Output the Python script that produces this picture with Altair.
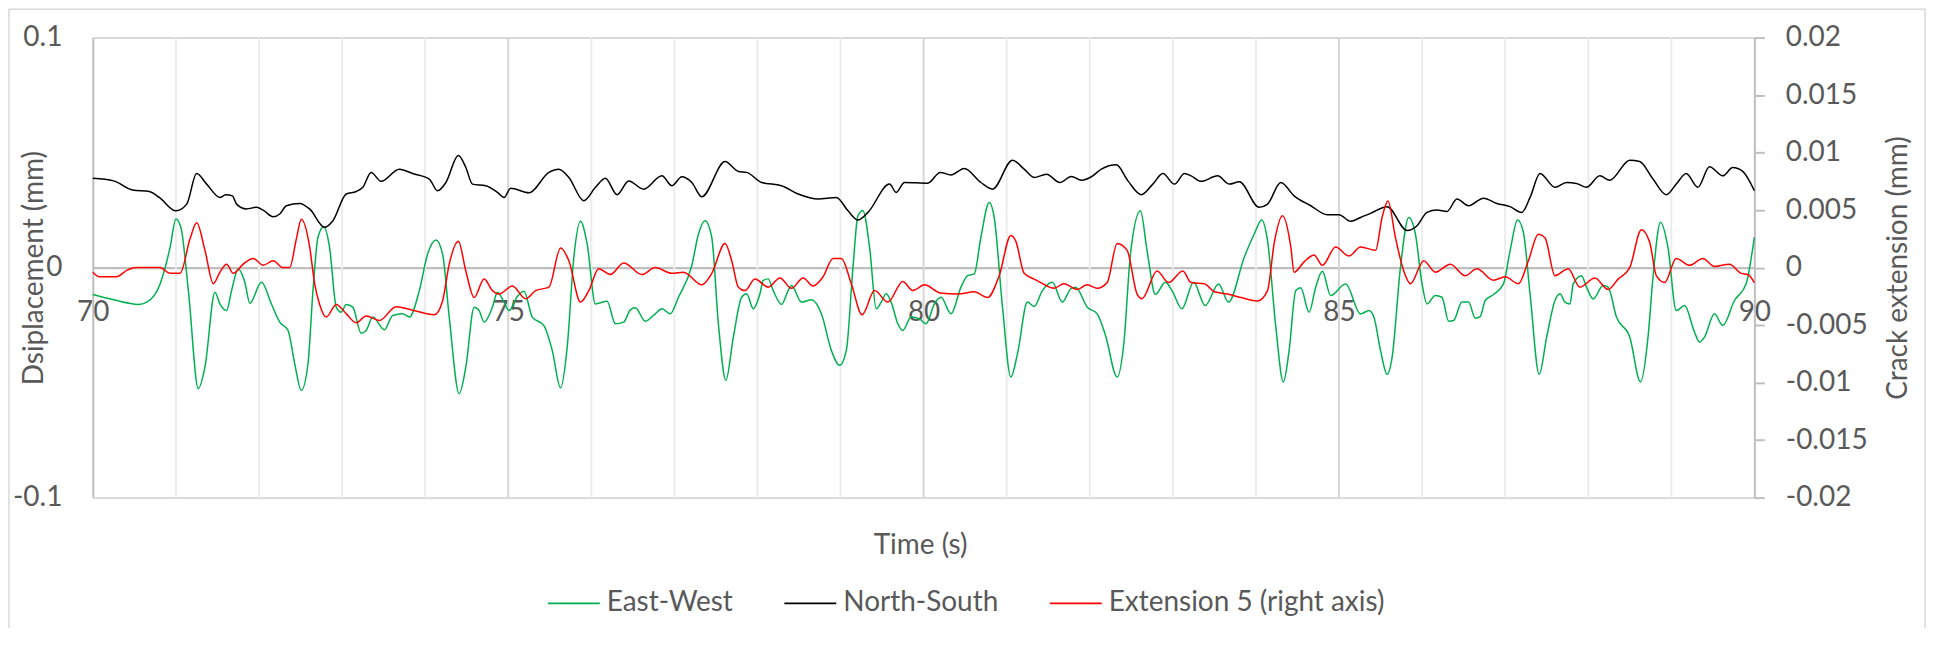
import altair as alt
import pandas as pd

# ---------------- data ----------------
ew_t = [70.0, 70.25, 70.55, 70.65, 70.81, 70.93, 71.0, 71.06, 71.15, 71.27, 71.35, 71.47, 71.53, 71.61, 71.67,
        71.75, 71.83, 71.89, 72.03, 72.15, 72.25, 72.35, 72.43, 72.51, 72.59, 72.65, 72.71, 72.78, 72.85, 72.93,
        72.99, 73.05, 73.13, 73.23, 73.29, 73.37, 73.51, 73.61, 73.73, 73.81, 73.93, 74.03, 74.13, 74.21, 74.29,
        74.41, 74.49, 74.59, 74.65, 74.71, 74.81, 74.87, 74.95, 75.01, 75.11, 75.19, 75.29, 75.43, 75.53, 75.63,
        75.71, 75.79, 75.87, 75.95, 76.05, 76.19, 76.29, 76.39, 76.47, 76.53, 76.65, 76.77, 76.85, 76.95, 77.05,
        77.21, 77.29, 77.37, 77.45, 77.53, 77.62, 77.71, 77.81, 77.87, 77.95, 78.03, 78.07, 78.13, 78.19, 78.29,
        78.37, 78.41, 78.53, 78.65, 78.77, 78.89, 78.99, 79.07, 79.15, 79.21, 79.27, 79.35, 79.43, 79.49, 79.55,
        79.61, 79.69, 79.75, 79.85, 79.95, 80.03, 80.13, 80.21, 80.33, 80.45, 80.53, 80.61, 80.69, 80.79, 80.85,
        80.95, 81.05, 81.13, 81.25, 81.33, 81.43, 81.55, 81.67, 81.77, 81.83, 81.97, 82.09, 82.19, 82.33, 82.41,
        82.49, 82.61, 82.69, 82.79, 82.91, 82.99, 83.11, 83.25, 83.39, 83.55, 83.67, 83.86, 83.98, 84.07, 84.14,
        84.24, 84.33, 84.4, 84.48, 84.54, 84.64, 84.72, 84.8, 84.9, 85.08, 85.26, 85.36, 85.42, 85.5, 85.58,
        85.64, 85.74, 85.84, 85.92, 86.0, 86.06, 86.16, 86.24, 86.32, 86.38, 86.48, 86.56, 86.64, 86.7, 86.76,
        86.86, 86.98, 87.06, 87.15, 87.22, 87.3, 87.41, 87.5, 87.6, 87.66, 87.72, 87.78, 87.82, 87.92, 87.98,
        88.06, 88.18, 88.24, 88.34, 88.5, 88.63, 88.72, 88.78, 88.87, 88.96, 89.06, 89.16, 89.28, 89.34, 89.4,
        89.52, 89.62, 89.76, 89.9, 90.0]
ew_v = [-0.0117, -0.014, -0.016, -0.015, -0.0071, 0.0088, 0.0211, 0.0175, -0.01, -0.0526, -0.0432, -0.0107, -0.0158, -0.0187, -0.01,
        -0.0006, -0.0064, -0.0155, -0.0064, -0.0158, -0.0237, -0.0273, -0.0418, -0.0534, -0.0418, -0.01, 0.0132, 0.0178, 0.0088, -0.0172,
        -0.0194, -0.016, -0.0172, -0.0285, -0.0273, -0.0215, -0.027, -0.0208, -0.0201, -0.0215, -0.01, 0.0059, 0.012, 0.0059, -0.0215,
        -0.0548, -0.0432, -0.0172, -0.0187, -0.0237, -0.0172, -0.0107, -0.015, -0.0187, -0.0126, -0.0103, -0.0215, -0.0252, -0.036, -0.0523,
        -0.0346, 0.0045, 0.0201, 0.0103, -0.0158, -0.0146, -0.0244, -0.0237, -0.0184, -0.0175, -0.0233, -0.0201, -0.0179, -0.0201, -0.0129,
        0.0009, 0.0146, 0.0204, 0.0132, -0.0244, -0.049, -0.0302, -0.0129, -0.0114, -0.0179, -0.0114, -0.0056, -0.0049, -0.01, -0.016,
        -0.01, -0.0078, -0.015, -0.014, -0.0201, -0.036, -0.0425, -0.036, 0.0001, 0.0226, 0.0247, 0.0088, -0.0179, -0.015, -0.0114,
        -0.015, -0.0244, -0.0273, -0.0215, -0.0223, -0.0244, -0.0158, -0.0129, -0.0201, -0.0085, -0.0035, -0.0027, 0.0132, 0.0283, 0.0218,
        -0.0172, -0.0476, -0.0375, -0.015, -0.0169, -0.01, -0.0064, -0.015, -0.0093, -0.0085, -0.0172, -0.0201, -0.0295, -0.0476, -0.0331,
        0.0059, 0.0247, 0.0074, -0.0117, -0.0064, -0.01, -0.0179, -0.0064, -0.0165, -0.0071, -0.015, 0.0045, 0.0146, 0.0207, 0.0117,
        -0.0259, -0.0497, -0.036, -0.01, -0.0088, -0.0194, -0.0085, -0.0016, -0.0121, -0.0071, -0.0201, -0.0187, -0.0215, -0.036, -0.0464,
        -0.0389, 0.0001, 0.0218, 0.0146, -0.0071, -0.0158, -0.0121, -0.0129, -0.0233, -0.023, -0.015, -0.015, -0.022, -0.0213, -0.0143,
        -0.0117, -0.0071, 0.0074, 0.0207, 0.0153, -0.0114, -0.0464, -0.0302, -0.0143, -0.0114, -0.015, -0.0158, -0.0071, -0.0035, -0.0085,
        -0.0136, -0.0078, -0.0085, -0.0215, -0.0302, -0.0497, -0.0302, -0.0042, 0.0197, 0.0088, -0.0187, -0.0165, -0.0281, -0.0324, -0.0302,
        -0.0201, -0.0252, -0.0143, -0.0071, 0.0132]

ns_t = [70.0, 70.25, 70.48, 70.68, 70.8, 71.0, 71.13, 71.25, 71.37, 71.53, 71.6, 71.68, 71.73, 71.85, 71.97,
        72.05, 72.17, 72.25, 72.33, 72.49, 72.61, 72.79, 72.89, 73.05, 73.17, 73.25, 73.35, 73.47, 73.69, 73.85,
        74.05, 74.15, 74.25, 74.4, 74.49, 74.57, 74.73, 74.87, 74.95, 75.03, 75.25, 75.49, 75.61, 75.73, 75.91,
        76.05, 76.17, 76.31, 76.45, 76.63, 76.85, 76.97, 77.09, 77.21, 77.33, 77.61, 77.77, 77.87, 78.05, 78.29,
        78.49, 78.73, 78.95, 79.09, 79.21, 79.33, 79.59, 79.67, 79.77, 80.05, 80.2, 80.33, 80.49, 80.69, 80.83,
        81.07, 81.21, 81.33, 81.48, 81.64, 81.78, 81.9, 82.02, 82.14, 82.32, 82.46, 82.62, 82.76, 82.88, 83.02,
        83.14, 83.22, 83.34, 83.54, 83.68, 83.8, 84.04, 84.14, 84.3, 84.46, 84.66, 84.86, 85.0, 85.14, 85.26,
        85.38, 85.58, 85.82, 85.94, 86.06, 86.18, 86.3, 86.42, 86.56, 86.74, 86.9, 87.06, 87.2, 87.3, 87.42,
        87.6, 87.74, 87.86, 87.98, 88.14, 88.26, 88.5, 88.62, 88.78, 88.94, 89.06, 89.18, 89.32, 89.46, 89.62,
        89.74, 89.86, 90.0]
ns_v = [0.0388, 0.0377, 0.0337, 0.0331, 0.0305, 0.0247, 0.0276, 0.0409, 0.0363, 0.0305, 0.0317, 0.0312, 0.0276, 0.0255, 0.0262,
        0.025, 0.0221, 0.0233, 0.0269, 0.0279, 0.0255, 0.0175, 0.0204, 0.032, 0.0331, 0.0349, 0.0414, 0.0375, 0.0428, 0.0409,
        0.0385, 0.0334, 0.037, 0.0487, 0.0435, 0.0363, 0.0356, 0.0327, 0.0305, 0.0345, 0.0325, 0.0414, 0.0428, 0.0392, 0.0291,
        0.0349, 0.0389, 0.0317, 0.0377, 0.0341, 0.0399, 0.0356, 0.0395, 0.037, 0.0308, 0.0461, 0.0418, 0.0414, 0.037, 0.0356,
        0.032, 0.0298, 0.0305, 0.0247, 0.0207, 0.024, 0.0363, 0.0327, 0.037, 0.0367, 0.0414, 0.0403, 0.0431, 0.037, 0.0341,
        0.0467, 0.0428, 0.0392, 0.0406, 0.037, 0.0396, 0.038, 0.0395, 0.0428, 0.0447, 0.0377, 0.0317, 0.0363, 0.0409, 0.0363,
        0.0409, 0.0399, 0.0375, 0.0399, 0.0363, 0.0373, 0.0262, 0.0276, 0.037, 0.0312, 0.0269, 0.023, 0.023, 0.0201, 0.0218,
        0.0236, 0.0265, 0.0161, 0.0182, 0.024, 0.025, 0.0244, 0.0298, 0.0269, 0.0302, 0.0279, 0.0265, 0.024, 0.0305, 0.0409,
        0.0349, 0.037, 0.0366, 0.0349, 0.0399, 0.038, 0.0467, 0.0461, 0.0385, 0.0317, 0.0363, 0.0409, 0.0349, 0.0438, 0.0399,
        0.0435, 0.0418, 0.0334]

ext_t = [70.0, 70.08, 70.28, 70.42, 70.52, 70.81, 70.93, 71.05, 71.17, 71.25, 71.35, 71.45, 71.53, 71.61, 71.69,
         71.81, 71.93, 72.05, 72.17, 72.29, 72.37, 72.45, 72.51, 72.61, 72.67, 72.73, 72.81, 72.93, 73.05, 73.17,
         73.29, 73.45, 73.65, 73.85, 74.11, 74.21, 74.29, 74.4, 74.49, 74.59, 74.71, 74.81, 74.89, 75.05, 75.21,
         75.33, 75.49, 75.63, 75.73, 75.87, 75.97, 76.09, 76.23, 76.39, 76.61, 76.77, 76.97, 77.11, 77.33, 77.45,
         77.61, 77.69, 77.77, 77.85, 77.97, 78.13, 78.27, 78.41, 78.55, 78.67, 78.79, 78.91, 79.01, 79.13, 79.26,
         79.41, 79.57, 79.75, 79.87, 80.01, 80.2, 80.41, 80.61, 80.77, 80.91, 81.05, 81.11, 81.21, 81.33, 81.41,
         81.57, 81.69, 81.85, 81.97, 82.09, 82.21, 82.33, 82.45, 82.57, 82.63, 82.81, 82.95, 83.12, 83.22, 83.38,
         83.5, 83.66, 83.82, 84.02, 84.14, 84.22, 84.32, 84.42, 84.46, 84.58, 84.7, 84.8, 84.96, 85.12, 85.26,
         85.44, 85.52, 85.59, 85.68, 85.78, 85.86, 86.02, 86.16, 86.34, 86.52, 86.66, 86.86, 87.0, 87.16, 87.28,
         87.4, 87.48, 87.6, 87.76, 87.9, 88.08, 88.24, 88.36, 88.5, 88.64, 88.74, 88.82, 88.92, 89.06, 89.22,
         89.38, 89.52, 89.7, 89.84, 89.92, 90.0]
ext_v = [-0.0004, -0.0008, -0.0008, -0.0002, 0.0, 0.0, -0.0005, -0.0005, 0.0025, 0.0039, 0.0015, -0.0014, -0.0004, 0.0003, -0.0005,
         0.0003, 0.0008, 0.0002, 0.0006, 0.0, 0.0, 0.0025, 0.0042, 0.0018, -0.0014, -0.0032, -0.0043, -0.0032, -0.004, -0.0048,
         -0.0042, -0.0046, -0.0034, -0.0037, -0.0041, -0.0029, 0.0003, 0.0023, -0.0003, -0.0026, -0.001, -0.002, -0.0023, -0.0016, -0.0027,
         -0.002, -0.0017, 0.0017, 0.0006, -0.003, -0.002, -0.0001, -0.0006, 0.0004, -0.0006, 0.0, -0.0005, -0.0004, -0.0015, -0.0005,
         0.0021, 0.0006, -0.0017, -0.002, -0.001, -0.0017, -0.0009, -0.0018, -0.0009, -0.0016, -0.0008, 0.0008, 0.0008, -0.0014, -0.0041,
         -0.002, -0.003, -0.0012, -0.002, -0.0015, -0.0022, -0.0023, -0.0021, -0.0026, -0.0007, 0.0028, 0.0023, -0.0005, -0.001, -0.0013,
         -0.0018, -0.0014, -0.0019, -0.0015, -0.0018, -0.0013, 0.0021, 0.0015, -0.0023, -0.0027, -0.0003, -0.0013, -0.0003, -0.0013, -0.0014,
         -0.0021, -0.0023, -0.0026, -0.0029, -0.002, 0.0021, 0.0045, 0.0018, -0.0004, 0.0005, 0.0011, 0.0002, 0.0018, 0.001, 0.0018,
         0.0015, 0.0044, 0.0058, 0.0026, -0.0003, -0.0014, 0.0006, -0.0004, 0.0003, -0.0007, -0.0001, -0.0011, -0.0008, -0.0014, 0.0006,
         0.0029, 0.0026, -0.0007, -0.0001, -0.0017, -0.0009, -0.0019, -0.001, 0.0, 0.0033, 0.0022, -0.0007, -0.0013, 0.0008, 0.0002,
         0.0008, 0.0001, 0.0003, -0.0005, -0.0006, -0.0013]

series_names = ["East-West", "North-South", "Extension 5 (right axis)"]
series_colors = ["#00B050", "#000000", "#FF0000"]

x_ticks = [70, 75, 80, 85, 90]
minor_grid_t = [71, 72, 73, 74, 76, 77, 78, 79, 81, 82, 83, 84, 86, 87, 88, 89]
major_grid_t = [75, 80, 85]
left_ticks = [-0.1, 0, 0.1]
right_ticks = [-0.02, -0.015, -0.01, -0.005, 0, 0.005, 0.01, 0.015, 0.02]

# ---------------- tables ----------------
df_primary = pd.concat([
    pd.DataFrame({"t": ew_t, "v": ew_v, "series": series_names[0]}),
    pd.DataFrame({"t": ns_t, "v": ns_v, "series": series_names[1]}),
], ignore_index=True)
df_ext = pd.DataFrame({"t": ext_t, "v": ext_v, "series": series_names[2]})
df_minor = pd.DataFrame({"t": minor_grid_t})
df_major = pd.DataFrame({"t": major_grid_t})
df_frame = pd.DataFrame({"k": [0]})

FONT = "Lato"
TXT = "#595959"
W, H = 1665, 461

minus_expr = "datum.value < 0 ? '-' + format(-datum.value, '~g') : format(datum.value, '~g')"

x_scale = alt.Scale(domain=[70, 90], nice=False, zero=False)
x_axis = alt.Axis(values=x_ticks, orient="bottom", offset=-H / 2, grid=False, ticks=False,
                  domain=True, domainColor="#bfbfbf", domainWidth=2,
                  labelPadding=53, labelBaseline="alphabetic", labelFlush=False, labelOverlap=False,
                  labelFontSize=28, labelColor=TXT, labelFont=FONT,
                  title="Time (s)", titleFont=FONT, titleFontSize=28, titleColor=TXT,
                  titleFontWeight="normal", titleX=829, titleY=286, titleAlign="center",
                  titleBaseline="alphabetic", titleAnchor="start")


def xenc():
    return alt.X("t:Q", scale=x_scale, axis=x_axis)


color_enc = alt.Color("series:N",
                      scale=alt.Scale(domain=series_names, range=series_colors),
                      legend=alt.Legend(orient="none", legendX=455, legendY=540, direction="horizontal",
                                        columns=3, title=None, symbolType="stroke", symbolSize=2704,
                                        symbolStrokeWidth=1.75, labelFont=FONT, labelFontSize=28,
                                        labelColor=TXT, labelOffset=6, columnPadding=47,
                                        labelLimit=600, padding=0))

minor = alt.Chart(df_minor).mark_rule(color="#ececec", strokeWidth=2).encode(x=xenc())
major = alt.Chart(df_major).mark_rule(color="#d6d6d6", strokeWidth=2).encode(x=xenc())

primary = alt.Chart(df_primary).mark_line(strokeWidth=1.5, interpolate="monotone").encode(
    x=xenc(),
    y=alt.Y("v:Q", scale=alt.Scale(domain=[-0.1, 0.1], nice=False, zero=False),
            axis=alt.Axis(values=left_ticks, orient="left", grid=True, gridColor="#d9d9d9", gridWidth=2,
                          domain=True, domainColor="#bfbfbf", domainWidth=2, ticks=False,
                          labelPadding=31, labelFont=FONT, labelFontSize=28, labelColor=TXT,
                          labelExpr=minus_expr, labelFlush=False, labelOverlap=False, labelBaseline="middle",
                          title="Dsiplacement (mm)", titleFont=FONT, titleFontSize=28, titleColor=TXT,
                          titleFontWeight="normal", titleAngle=270, titleX=-50, titleY=H / 2,
                          titleAlign="center", titleBaseline="alphabetic")),
    color=color_enc,
)

ext = alt.Chart(df_ext).mark_line(strokeWidth=1.5, interpolate="monotone").encode(
    x=xenc(),
    y=alt.Y("v:Q", scale=alt.Scale(domain=[-0.02, 0.02], nice=False, zero=False),
            axis=alt.Axis(values=right_ticks, orient="right", grid=False,
                          domain=True, domainColor="#bfbfbf", domainWidth=2,
                          ticks=True, tickSize=10, tickColor="#bfbfbf", tickWidth=2,
                          labelPadding=21, labelFont=FONT, labelFontSize=28, labelColor=TXT,
                          labelExpr=minus_expr, labelFlush=False, labelOverlap=False, labelBaseline="middle",
                          title="Crack extension (mm)", titleFont=FONT, titleFontSize=28, titleColor=TXT,
                          titleFontWeight="normal", titleAngle=270, titleX=152, titleY=H / 2,
                          titleAlign="center", titleBaseline="alphabetic")),
    color=color_enc,
)

frame = alt.Chart(df_frame).mark_rect(fillOpacity=0, stroke="#d9d9d9", strokeWidth=1.5).encode(
    x=alt.value(-84), x2=alt.value(1836), y=alt.value(-28.5), y2=alt.value(700))

chart = alt.layer(minor, major, primary, ext, frame).resolve_scale(y="independent").properties(
    width=W, height=H,
    autosize=alt.AutoSizeParams(type="none"),
    padding={"left": 85, "top": 29, "right": 172, "bottom": 130},
).configure_view(stroke=None).configure(background="white")

chart.save("out.html", embed_options={"renderer": "svg", "actions": False})
